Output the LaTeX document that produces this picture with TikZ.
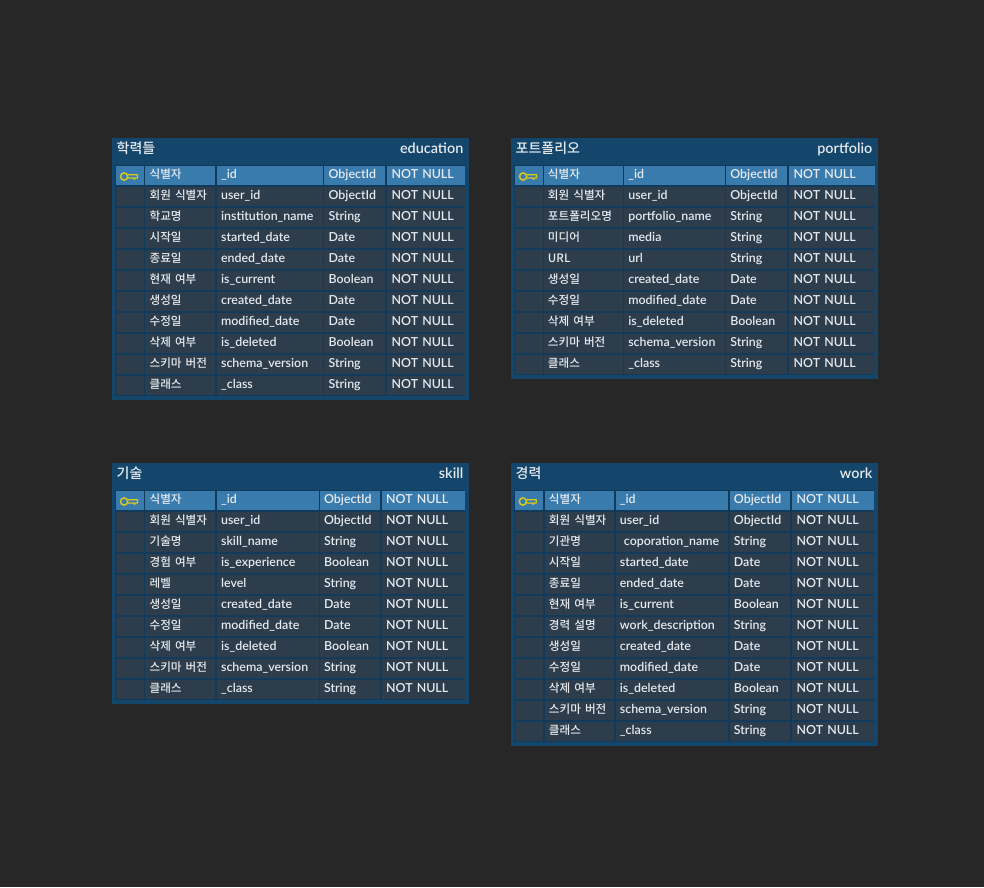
\documentclass[tikz,border=0pt]{standalone}
\usepackage{fontspec}
\setmainfont{Lato Semibold}[WordSpace=0.7]
\newfontfamily\krfont{Noto Sans CJK KR Medium}
\definecolor{bgcol}{HTML}{272727}
\definecolor{boxcol}{HTML}{14466B}
\definecolor{gridcol}{HTML}{123A5A}
\definecolor{headcol}{HTML}{3A7BAE}
\definecolor{cellcol}{HTML}{2D3D4C}
\definecolor{keycol}{HTML}{D8C81E}
\definecolor{txtcol}{HTML}{E6EAEE}
\tikzset{
  tblbox/.style={draw=boxcol,fill=boxcol,line width=1pt,anchor=north west,inner sep=0pt},
  gridbox/.style={fill=gridcol,anchor=north west,inner sep=0pt},
  cell/.style={anchor=north west,inner sep=0pt,inner xsep=4.4pt,minimum height=19.2pt,
    text=txtcol,font=\fontsize{12.4}{14}\selectfont,align=left,text height=9.6pt,text depth=4.4pt},
  ttl/.style={inner sep=0pt,text=txtcol,font=\fontsize{14.4}{15}\selectfont,text height=10pt,text depth=3pt}
}
% #1 id, #2 left, #3 top, #4 width, #5 height, #6 titles, #7 columns, #8 rows
\newcommand\dbtable[8]{
  \node[tblbox,minimum width=#4,minimum height=#5] (#1) at (#2,#3) {};
  \node[gridbox,minimum width=#4-6,minimum height=#5-29.5] (#1-grid) at (#2+3,#3+26.5) {};
  \foreach \ttlL/\ttlR in {#6}{
    \node[ttl,anchor=west] (#1-title) at (#2+4.5,#3+12) {\fontsize{14}{15}\krfont\ttlL};
    \node[ttl,anchor=east] (#1-entity) at (#2+#4-4.5,#3+11.5) {\ttlR};
  }
  \foreach \nm/\fld/\typ [count=\r] in {#8}{
    \ifnum\r=1 \def\cellfill{headcol}\else\def\cellfill{cellcol}\fi
    \foreach \cx/\cw [count=\c] in {#7}{
      \node[cell,fill=\cellfill,text width=\cw-8.8] (#1-\r-\c) at (\cx,#3+28+21*\r-21)
        {\mbox{\ifcase\c\or\or\fontsize{11.6}{14}\krfont\nm\or\fld\or\typ\or NOT NULL\fi}};
    }
  }
  % key icon
  \draw[keycol,line width=1.5pt] ([xshift=8.6pt,yshift=-0.7pt]#1-1-1.west) circle (3.6pt);
  \draw[keycol,line width=1.3pt,line join=round]
    ([xshift=12pt,yshift=1pt]#1-1-1.west) -- ++(10pt,0) -- ++(0,-3.2pt) -- ++(-2.2pt,0)
    -- ++(-0.8pt,-1.4pt) -- ++(-1pt,1.4pt) -- ++(-6pt,0);
}
\begin{document}
\begin{tikzpicture}[x=1pt,y=-1pt]
  \useasboundingbox (0,0) rectangle (984,887);
  \fill[bgcol] (0,0) rectangle (984,887);
  %--------- education
  \dbtable{edu}{112}{138}{356}{261}{학력들/education}
    {115.5/28,145/70,216.5/106,324/61,387/77.5}
    {식별자/\_id/ObjectId,회원 식별자/user\_id/ObjectId,학교명/institution\_name/String,
     시작일/started\_date/Date,종료일/ended\_date/Date,현재 여부/is\_current/Boolean,
     생성일/created\_date/Date,수정일/modified\_date/Date,삭제 여부/is\_deleted/Boolean,
     스키마 버전/schema\_version/String,클래스/\_class/String}
  %--------- portfolio
  \dbtable{port}{511}{138}{366}{240}{포트폴리오/portfolio}
    {514.5/28,543.3/79,623.7/101,725.7/61.5,789/85.5}
    {식별자/\_id/ObjectId,회원 식별자/user\_id/ObjectId,포트폴리오명/portfolio\_name/String,
     미디어/media/String,URL/url/String,생성일/created\_date/Date,수정일/modified\_date/Date,
     삭제 여부/is\_deleted/Boolean,스키마 버전/schema\_version/String,클래스/\_class/String}
  %--------- skill
  \dbtable{skill}{112}{463}{356}{240}{기술/skill}
    {115.5/28,145/69.5,216.5/102,319.5/60,381.5/83}
    {식별자/\_id/ObjectId,회원 식별자/user\_id/ObjectId,기술명/skill\_name/String,
     경험 여부/is\_experience/Boolean,레벨/level/String,생성일/created\_date/Date,
     수정일/modified\_date/Date,삭제 여부/is\_deleted/Boolean,스키마 버전/schema\_version/String,
     클래스/\_class/String}
  %--------- work
  \dbtable{work}{511}{463}{366}{282}{경력/work}
    {514.3/28,544.3/69.5,615.3/112,729.3/60.7,792/82}
    {식별자/\_id/ObjectId,회원 식별자/user\_id/ObjectId,기관명/\hspace{4pt}coporation\_name/String,
     시작일/started\_date/Date,종료일/ended\_date/Date,현재 여부/is\_current/Boolean,
     경력 설명/work\_description/String,생성일/created\_date/Date,수정일/modified\_date/Date,
     삭제 여부/is\_deleted/Boolean,스키마 버전/schema\_version/String,클래스/\_class/String}
\end{tikzpicture}
\end{document}
